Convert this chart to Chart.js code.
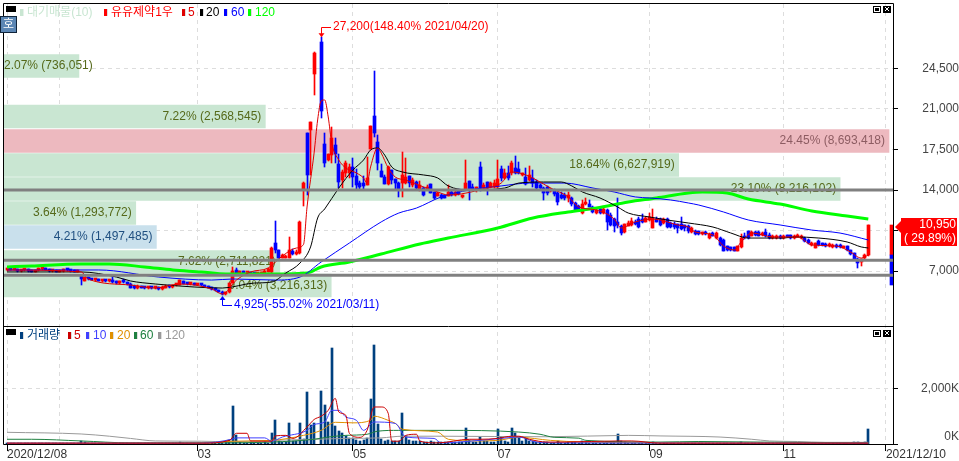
<!DOCTYPE html>
<html>
<head>
<meta charset="utf-8">
<title>유유제약1우</title>
<script src="https://cdn.jsdelivr.net/npm/chart.js@4/dist/chart.umd.min.js"></script>
<style>
  body { margin: 0; background: #fff; }
  canvas { display: block; }
</style>
</head>
<body>
<canvas id="chart" width="959" height="461"></canvas>
<script>
// daily candles, 2020/12/08 - 2021/12/10, index 88 is the hole in the picture
const opens = [
  7050,7200,7100,7150,7000,7050,7100,7000,6950,7050,
  7150,7200,7100,7000,7050,6950,7000,7100,7050,7000,
  6950,6550,6150,6400,6300,6200,6250,6150,6200,6100,
  6150,6050,5950,6100,6000,5900,5550,5500,5650,5550,
  5500,5600,5500,5550,5450,5550,5700,5600,5750,5800,
  6150,5900,5850,5900,5800,5850,5750,5650,5550,5450,
  5350,5200,4980,5150,6000,7100,6800,6900,6800,6850,
  6750,6700,6750,6800,6950,6900,9450,8800,8150,8150,
  8150,8750,8450,8550,14000,18900,19180,24000,null,26800,
  17950,16600,17000,17900,16250,14850,15450,15450,16000,15200,
  14600,14600,14450,17550,20400,18150,15650,15100,14500,15750,
  14950,14600,14600,14600,15200,14450,14700,14000,14200,14100,
  14500,13800,13500,13550,13550,13500,13800,13550,14000,13400,
  14100,14800,14300,14100,16000,14150,14700,14250,14250,14250,
  15800,15050,15450,15450,15900,15800,15300,15100,14850,15050,
  14700,14450,14150,14250,13900,14000,13750,13550,13550,13300,
  13300,12900,12600,12000,12750,12800,12550,12000,12350,12000,
  12250,11850,11500,11250,10900,10350,10900,11000,11250,11500,
  11500,11250,11400,10750,11500,11500,11150,11500,11150,11100,
  11050,11050,10950,10900,10400,10450,10450,10200,10350,9850,
  10300,9850,9850,9700,9150,9050,9050,8750,9050,10050,
  10450,10050,10400,10400,10100,10400,10150,9850,9850,10050,
  9850,10100,10100,9850,9950,9850,9850,9700,9250,9000,
  9600,9400,9350,9150,9050,9250,9250,9000,9150,8800,
  8550,8050,7750,8100,8350
];
const closes = [
  7200,7100,7150,7000,7050,7100,7000,6950,7050,7150,
  7200,7100,7000,7050,6950,7000,7100,7050,7000,6950,
  7000,6300,6450,6300,6250,6250,6150,6200,6100,6150,
  6050,6000,6100,6050,5850,5550,5500,5650,5550,5500,
  5600,5500,5550,5450,5550,5700,5600,5750,5850,6200,
  5900,5850,5900,5800,5850,5750,5650,5550,5450,5350,
  5200,5000,5150,5950,7000,6800,6900,6800,6850,6750,
  6700,6750,6800,6950,7150,9000,8800,8150,8400,8250,
  8800,8450,8650,11250,14600,15300,19900,25850,null,20800,
  16300,17100,18500,17100,14700,15550,16350,15950,15100,14450,
  14250,14350,15050,19500,18950,16350,15100,14500,16000,14850,
  14600,14100,15300,15100,14600,14850,14200,14450,13550,14250,
  13750,13300,13750,13300,13350,13800,13550,13800,13650,13550,
  14600,14100,14100,14250,14200,14450,14200,14600,14600,14950,
  15050,15450,15050,16350,15450,15450,15450,14500,15300,14600,
  14200,14200,13750,13750,14100,13650,12950,13300,13300,13550,
  12800,12300,12300,12800,12900,12550,12100,12250,12000,12350,
  11250,10950,10900,10950,10300,11050,11150,11300,11050,10800,
  11250,11600,11650,11600,11250,10950,11500,10800,10800,10800,
  10700,10600,10700,10450,10700,10200,10200,10350,10200,10200,
  10050,10300,9250,8750,8800,8800,8750,9150,9850,9850,
  9850,10400,10100,10050,10300,10050,9850,10050,10050,9850,
  10000,9950,9850,10000,10100,10050,9600,9400,9450,9400,
  9250,9250,9150,9350,9250,9050,9050,9150,8800,8450,
  8050,7700,8000,8400,10950
];
const highs = [
  7300,7250,7250,7200,7100,7150,7150,7050,7100,7250,
  7300,7250,7150,7100,7100,7050,7150,7150,7100,7050,
  7050,6600,6500,6450,6350,6300,6300,6250,6250,6200,
  6450,6100,6150,6350,6050,5950,5750,5750,5700,5650,
  5650,5650,5600,5600,5700,5750,5800,5800,5900,6250,
  6150,5950,5950,5950,5900,5900,5800,5700,5600,5500,
  5400,5250,5200,6000,7350,7300,7000,7000,6950,6950,
  6800,6850,6950,7050,7250,9050,11300,8800,8500,8350,
  9900,8900,8800,11300,14650,18900,19900,25900,null,27200,
  18900,17150,19450,18500,17100,15700,16500,16250,16770,15800,
  14800,15200,16850,19550,24300,18750,16250,15300,16050,15750,
  14950,14700,17250,16800,15250,15000,14800,14800,14300,14400,
  14550,13850,13850,13650,13600,14400,13900,13900,14100,13600,
  16550,14800,14500,14300,16400,14600,14700,14700,14900,16550,
  16100,15800,16100,16500,16900,16450,15500,15900,16100,15750,
  14900,14500,14300,14350,14200,14050,13800,13800,13700,13800,
  13400,13000,12700,13100,13300,13100,12650,12400,12500,12450,
  12400,12000,11550,13300,11000,11100,11300,11600,11400,11650,
  11900,11700,12000,12400,11700,11600,11600,11550,11250,11200,
  11100,11700,11000,11000,10800,10550,10500,10400,10450,10250,
  10400,10400,9900,9750,9200,9100,9100,9200,10200,10250,
  10500,10500,10500,10500,10400,10600,10300,10150,10100,10100,
  10100,10150,10150,10100,10200,10100,9900,9750,9500,9450,
  9650,9450,9400,9400,9300,9300,9300,9200,9200,8850,
  8600,8100,8050,8450,10950
];
const lows = [
  7000,7050,7050,6950,6950,7000,6950,6900,6900,7000,
  7100,7050,6950,6950,6900,6900,6950,7000,6950,6900,
  6900,5750,6100,6250,6200,6100,6100,6050,6050,6050,
  6000,5900,5900,6000,5800,5500,5450,5450,5500,5450,
  5450,5450,5450,5400,5350,5500,5550,5550,5700,5750,
  5850,5800,5800,5750,5750,5700,5600,5500,5400,5300,
  5150,4925,4950,5100,5950,6700,6700,6750,6700,6700,
  6650,6650,6700,6750,6900,6800,8600,8100,8100,8100,
  8100,8400,8400,8500,12600,13570,15300,22200,null,20200,
  15950,16500,16300,16330,14170,14200,15100,15000,14260,14000,
  14050,14000,14400,17500,18600,15700,15100,14500,14450,14500,
  14100,13400,13400,14550,14300,14300,14100,13950,13500,14000,
  13700,13250,13450,13250,13300,13450,13500,13500,13600,13300,
  14050,13100,14000,13800,13950,14100,13550,14200,14200,14150,
  14800,14950,14900,15300,15400,15400,15200,14450,14800,14300,
  14100,14000,13100,13600,13800,13500,12700,13200,13100,13000,
  12600,12250,12200,11950,12700,12500,12000,11950,11950,11950,
  10550,10900,10400,10750,10150,10300,10850,10900,11000,10700,
  11150,11200,11350,10700,11200,10850,11100,10750,10700,10650,
  10300,10550,10500,10300,10300,10100,10100,10150,10100,9800,
  10000,9800,9200,8700,8750,8750,8700,8700,9000,9800,
  9800,10000,10050,10000,10050,9950,9800,9800,9800,9800,
  9800,9900,9800,9800,9900,9800,9550,9350,9200,8950,
  9200,9200,9100,9100,9000,9000,9000,8950,8750,8400,
  8000,7300,7400,8050,8300
];
const volumes = [
  40,50,35,30,30,35,30,25,40,45,
  50,35,30,30,30,25,35,30,25,30,
  30,120,60,40,30,30,30,30,25,25,
  30,30,30,25,25,40,50,30,25,30,
  30,25,25,30,40,30,30,35,30,60,
  40,30,25,25,30,30,35,30,30,35,
  40,70,110,130,1350,310,60,50,40,60,
  50,40,40,60,50,380,850,90,70,60,
  740,120,100,740,180,1860,670,740,null,1900,
  1390,800,3440,640,460,380,280,220,210,150,
  110,160,220,1610,3550,710,170,110,150,100,
  90,100,1100,280,130,100,90,100,80,70,
  90,80,60,60,60,80,60,60,60,70,
  560,130,70,60,240,100,120,70,70,530,
  240,100,80,560,380,240,100,200,110,90,
  60,60,70,60,50,50,90,50,50,60,
  70,60,50,90,60,50,50,40,40,40,
  70,70,70,350,90,80,40,40,30,40,
  30,30,40,60,30,40,30,30,30,30,
  30,30,40,30,30,30,40,30,30,30,
  40,30,50,40,30,30,30,40,60,40,
  30,30,30,30,30,30,30,30,30,30,
  30,30,30,30,30,30,40,30,30,40,
  30,30,30,30,30,30,30,30,30,50,
  60,70,50,60,530
];

// price moving averages: bar index, price
const ma5Idx = [0,21,23,35,42,49,58,61,65,69,74,78,82,84,85,87,88,89,90,91,92,94,96,99,101,102,103,105,106,108,110,113,118,122,125,135,140,143,147,150,154,159,162,167,172,174,178,183,190,193,195,200,203,206,208,211,217,224,228,235,239,242,244];
const ma5 = [7090,6920,6310,5790,5530,5880,5450,5010,6220,6920,7260,8300,8990,9300,12530,17200,20050,21690,21780,20310,18060,16590,15900,15470,15040,14600,15990,17630,17200,15900,15120,14860,14260,13830,13570,14090,14600,15560,15300,14860,14170,13400,12530,12270,11490,10720,11240,11490,10980,10800,10370,10110,9160,8820,9510,10290,9940,9940,9250,9160,8640,8120,8380];
const ma20Idx = [0,21,31,35,42,53,61,70,75,79,83,86,88,90,94,98,101,103,105,107,109,112,118,122,125,131,141,145,152,157,160,163,168,173,176,182,187,193,200,205,210,220,223,230,238,242,244];
const ma20 = [6920,6920,6480,6140,5880,5620,5530,5960,6050,6830,7690,9080,11580,12360,14170,15730,16590,17460,17630,17020,15990,15560,15300,15040,14350,14000,14170,14600,14690,14690,14350,13830,13310,12530,12010,11670,11410,11150,10800,10290,9850,9850,9940,9850,9510,9080,8990];
const ma60Idx = [0,26,43,58,64,76,83,89,97,106,111,116,123,131,140,148,158,166,172,178,182,188,193,196,203,210,219,228,236,244];
const ma60 = [7090,7090,6480,6220,6310,6220,6480,7780,9420,11240,12010,12440,13400,14000,14350,14600,14600,14170,13830,13400,13310,13140,12880,12700,12100,11410,10980,10540,10280,9680];
const ma120Idx = [0,7,21,29,39,47,55,62,72,85,89,97,106,117,125,139,149,159,167,176,184,193,197,204,210,219,228,238,244];
const ma120 = [7350,7440,7610,7610,7350,7090,6920,6740,6740,6830,7350,7780,8470,9340,9850,10720,11580,12100,12440,12960,13310,13740,13830,13740,13220,12790,12190,11750,11490];

// volume moving averages (K shares)
const vol5Idx = [0,55,63,65,68,69,75,76,79,81,85,87,89,91,93,94,96,97,100,102,104,106,108,109,111,113,116,117,122,131,134,139,143,145,148,153,158,173,177,185,244];
const vol5 = [30,30,130,385,385,110,100,290,310,200,610,880,1000,1210,1640,1150,1030,380,240,490,1330,1330,1100,100,100,310,350,100,40,170,170,200,280,280,170,70,70,110,110,30,30];
const vol10Idx = [0,55,64,65,73,75,78,85,87,90,92,94,96,99,101,104,110,113,121,123,132,140,145,150,158,244];
const vol10 = [30,30,180,220,220,100,250,490,700,790,1210,1210,970,850,490,790,740,250,200,40,110,200,250,70,40,30];
const vol20Idx = [0,21,55,64,75,84,89,93,98,103,104,108,110,112,122,125,133,139,145,154,163,185,244];
const vol20 = [30,30,30,100,130,310,490,780,760,850,1000,850,740,530,430,170,110,130,240,130,70,40,30];
const vol60Idx = [0,7,21,35,55,75,87,91,96,102,105,111,124,145,151,155,162,164,185,196,239,244];
const vol60 = [170,170,110,40,40,70,170,250,310,350,460,490,490,430,350,240,210,130,70,90,40,40];
const vol120Idx = [0,21,29,35,42,55,63,75,87,96,106,112,123,153,176,185,202,211,216,224,232,244];
const vol120 = [420,360,280,200,110,100,80,130,170,200,220,280,280,260,310,290,250,170,110,90,60,60];

// 대기매물 bands
const bandPrices = [24714,20350,18234,16160,14086,12013,9939,7779,5749];
const bandShares = [2.07,7.22,24.45,18.64,23.10,3.64,4.21,7.62,9.04];
const bandLabels = ['2.07% (736,051)','7.22% (2,568,545)','24.45% (8,693,418)','18.64% (6,627,919)','23.10% (8,216,102)','3.64% (1,293,772)','4.21% (1,497,485)','7.62% (2,711,821)','9.04% (3,216,313)'];
const bandColors = ['#c9e6d2','#c9e6d2','#edb9bf','#c9e6d2','#c9e6d2','#c9e6d2','#c9e0ec','#c9e6d2','#c9e6d2'];
const bandTextColors = ['#55691a','#55691a','#8d5c62','#55691a','#55691a','#55691a','#1f4f80','#55691a','#55691a'];

const levelPrices = [14000,7925,6630];

const priceTicks = [7000,10500,14000,17500,21000,24500];
const priceTickLabels = ['7,000','','14,000','17,500','21,000','24,500'];
const volTicks = [0,2000];
const volTickLabels = [['0K',''],'2,000K'];
const dateTicks = [0,15,54,98,139,182,220,249];
const dateLabels = ['2020/12/08','','03','05','07','09','11','2021/12/10'];

const RED = '#ff0000', BLUE = '#0000ff', NAVY = '#00407f';
const FONT = '"Liberation Sans","Noto Sans CJK KR",sans-serif';

function candleColor(i) {
  return closes[i] >= opens[i] ? RED : BLUE;
}

const slots = opens.map((o, i) => i).filter(i => opens[i] !== null);

function lineSet(label, idx, vals, color, width, axis, order) {
  return {
    type: 'line', label: label,
    data: idx.map((x, i) => ({x: x, y: vals[i]})),
    borderColor: color, borderWidth: width, pointRadius: 0,
    cubicInterpolationMode: 'monotone',
    xAxisID: 'x', yAxisID: axis, order: order
  };
}

const datasets = [
  {
    type: 'bar', label: 'bands', indexAxis: 'y',
    data: bandPrices.map((p, i) => ({x: bandShares[i], y: p})),
    backgroundColor: bandColors, barThickness: 23, grouped: false, borderWidth: 0,
    xAxisID: 'xShare', yAxisID: 'y', order: 20
  },
  {
    type: 'bar', label: 'wicks',
    data: slots.map(i => ({x: i, y: [lows[i], highs[i]]})),
    backgroundColor: slots.map(candleColor), barThickness: 1, grouped: false, borderWidth: 0, minBarLength: 1,
    xAxisID: 'x', yAxisID: 'y', order: 12
  },
  {
    type: 'bar', label: 'bodies',
    data: slots.map(i => ({x: i, y: [opens[i], closes[i]]})),
    backgroundColor: slots.map(candleColor), barThickness: 3, grouped: false, borderWidth: 0, minBarLength: 2,
    xAxisID: 'x', yAxisID: 'y', order: 11
  },
  {
    type: 'bar', label: 'today',
    data: [{x: 250.6, y: [8380, 10950]}, {x: 250.6, y: [5800, 8380]}],
    backgroundColor: [RED, BLUE], barThickness: 3, grouped: false, borderWidth: 0,
    xAxisID: 'x', yAxisID: 'y', order: 10
  },
  lineSet('120', ma120Idx, ma120, '#00ff00', 3, 'y', 9),
  lineSet('60', ma60Idx, ma60, BLUE, 1, 'y', 8),
  lineSet('20', ma20Idx, ma20, '#000000', 1, 'y', 7),
  lineSet('5', ma5Idx, ma5, '#e00000', 1, 'y', 6),
  {
    type: 'bar', label: '거래량',
    data: slots.map(i => ({x: i, y: volumes[i]})),
    backgroundColor: NAVY, barThickness: 2, grouped: false, borderWidth: 0,
    xAxisID: 'x', yAxisID: 'v', order: 5
  },
  lineSet('v120', vol120Idx, vol120, '#999999', 1, 'v', 4),
  lineSet('v60', vol60Idx, vol60, '#1e8040', 1, 'v', 3),
  lineSet('v20', vol20Idx, vol20, '#e09000', 1, 'v', 2),
  lineSet('v10', vol10Idx, vol10, '#4040ff', 1, 'v', 1),
  lineSet('v5', vol5Idx, vol5, '#cc0000', 1, 'v', 0)
];
levelPrices.forEach(p => {
  datasets.push({
    type: 'line', label: 'level',
    data: [{x: -0.85, y: p}, {x: 251, y: p}],
    borderColor: '#808080', borderWidth: 3, pointRadius: 0,
    xAxisID: 'x', yAxisID: 'y', order: -1
  });
});

function text(ctx, s, x, y, color, align) {
  ctx.fillStyle = color;
  ctx.textAlign = align || 'left';
  ctx.textBaseline = 'middle';
  ctx.fillText(s, x, y);
}

function legendItem(ctx, s, markX, textX, y, color, pale) {
  ctx.fillStyle = color;
  ctx.fillRect(markX, y - 4, 3, 7);
  ctx.fillStyle = pale || '#dddddd';
  ctx.fillRect(markX + 3, y - 4, 1, 7);
  text(ctx, s, textX, y, color);
}

function windowIcons(ctx, y) {
  ctx.fillStyle = '#000';
  ctx.fillRect(873, y, 8, 7);
  ctx.fillStyle = '#fff';
  ctx.fillRect(874, y + 1, 6, 5);
  ctx.fillStyle = '#000';
  ctx.fillRect(875, y + 2, 4, 3);
  ctx.fillRect(883, y, 8, 7);
  ctx.fillStyle = '#fff';
  ctx.fillRect(885, y + 1, 1, 1);
  ctx.fillRect(888, y + 1, 1, 1);
  ctx.fillRect(886, y + 2, 2, 2);
  ctx.fillRect(885, y + 4, 1, 1);
  ctx.fillRect(888, y + 4, 1, 1);
}

// tick padding would otherwise eat into the plot area
function noScalePadding(s) {
  s.paddingTop = 0; s.paddingBottom = 0; s.paddingLeft = 0; s.paddingRight = 0;
}

// snap candle bars to whole pixels so they stay crisp like the original
const snapBars = {
  id: 'snapBars',
  afterDatasetsUpdate(chart) {
    chart.data.datasets.forEach((d, n) => {
      if (d.type !== 'bar' || d.indexAxis === 'y') return;
      chart.getDatasetMeta(n).data.forEach(el => {
        const half = el.width / 2;
        el.x = Math.round(el.x - half) + half;
        el.y = Math.round(el.y);
        el.base = Math.round(el.base);
        if (el.y === el.base) el.base += 1;
      });
    });
  }
};

// percent labels go on right after the band bars, under the candles
const bandText = {
  id: 'bandText',
  afterDatasetDraw(chart, args) {
    if (chart.data.datasets[args.index].label !== 'bands') return;
    const ctx = chart.ctx;
    ctx.save();
    ctx.font = '12px ' + FONT;
    args.meta.data.forEach((el, i) => {
      const w = ctx.measureText(bandLabels[i]).width;
      const x = Math.max(el.x - 4, 4 + w);
      text(ctx, bandLabels[i], x, el.y, bandTextColors[i], 'right');
    });
    ctx.restore();
  }
};

const decorations = {
  id: 'decorations',
  afterDraw(chart) {
    const ctx = chart.ctx;
    const xs = chart.scales.x, ys = chart.scales.y;
    ctx.save();

    // frame
    ctx.strokeStyle = '#000';
    ctx.lineWidth = 1;
    ctx.beginPath();
    ctx.moveTo(3.5, 444.5); ctx.lineTo(3.5, 3.5); ctx.lineTo(893.5, 3.5); ctx.lineTo(893.5, 444.5);
    ctx.moveTo(3.5, 326.5); ctx.lineTo(893.5, 326.5);
    ctx.moveTo(3.5, 444.5); ctx.lineTo(898, 444.5);
    ctx.stroke();

    ctx.font = '12px ' + FONT;

    // high / low callouts
    const hx = Math.round(xs.getPixelForValue(89)) + 0.5, hy = ys.getPixelForValue(27200);
    ctx.strokeStyle = RED;
    ctx.beginPath();
    ctx.moveTo(331, 27.5); ctx.lineTo(hx, 27.5); ctx.lineTo(hx, hy - 2);
    ctx.stroke();
    ctx.fillStyle = RED;
    ctx.beginPath();
    ctx.moveTo(hx - 3, hy - 4); ctx.lineTo(hx + 3, hy - 4); ctx.lineTo(hx, hy); ctx.fill();
    text(ctx, '27,200(148.40% 2021/04/20)', 333, 27, RED);

    const lx = Math.round(xs.getPixelForValue(61)) + 0.5, ly = ys.getPixelForValue(4925);
    ctx.strokeStyle = BLUE;
    ctx.beginPath();
    ctx.moveTo(lx, ly + 3); ctx.lineTo(lx, 305.5); ctx.lineTo(232, 305.5);
    ctx.stroke();
    ctx.fillStyle = BLUE;
    ctx.beginPath();
    ctx.moveTo(lx - 3, ly + 5); ctx.lineTo(lx + 3, ly + 5); ctx.lineTo(lx, ly + 1); ctx.fill();
    text(ctx, '4,925(-55.02% 2021/03/11)', 234, 305, BLUE);

    // last price tag
    ctx.fillStyle = RED;
    ctx.fillRect(901, 218, 56, 28);
    ctx.beginPath();
    ctx.moveTo(901, 221); ctx.lineTo(895, 227); ctx.lineTo(901, 233); ctx.fill();
    text(ctx, '10,950', 956, 225, '#fff', 'right');
    text(ctx, '( 29.89%)', 956, 239, '#fff', 'right');

    // price pane legend
    ctx.fillStyle = '#000';
    ctx.fillRect(6, 6, 10, 6);
    legendItem(ctx, '대기매물(10)', 20, 27, 13, '#c9e6d2', '#e6f2ea');
    legendItem(ctx, '유유제약1우', 104, 111, 13, RED);
    legendItem(ctx, '5', 182, 188, 13, '#e00000');
    legendItem(ctx, '20', 200, 206, 13, '#000000');
    legendItem(ctx, '60', 224, 231, 13, BLUE);
    legendItem(ctx, '120', 248, 255, 13, '#00ff00');

    // 호 button
    ctx.fillStyle = '#5b86b4';
    ctx.fillRect(0, 16, 17, 17);
    ctx.strokeStyle = '#10243a';
    ctx.strokeRect(0.5, 16.5, 16, 16);
    text(ctx, '호', 8.5, 24.5, '#fff', 'center');

    // volume pane legend
    ctx.fillStyle = '#000';
    ctx.fillRect(6, 329, 10, 6);
    legendItem(ctx, '거래량', 20, 27, 336, NAVY);
    legendItem(ctx, '5', 68, 74, 336, '#cc0000');
    legendItem(ctx, '10', 86, 93, 336, '#4040ff');
    legendItem(ctx, '20', 110, 117, 336, '#e09000');
    legendItem(ctx, '60', 134, 140, 336, '#1e8040');
    legendItem(ctx, '120', 158, 165, 336, '#999999');

    windowIcons(ctx, 6);
    windowIcons(ctx, 330);
    ctx.restore();
  }
};

const gridLook = {color: '#dddddd', tickColor: '#000', tickLength: 5, tickBorderDash: [], offset: false};

new Chart(document.getElementById('chart'), {
  type: 'bar',
  data: {datasets: datasets},
  plugins: [snapBars, bandText, decorations],
  options: {
    responsive: false,
    animation: false,
    events: [],
    layout: {padding: {left: 4, top: 4, right: 0, bottom: 0}},
    plugins: {legend: {display: false}, tooltip: {enabled: false}},
    scales: {
      x: {
        type: 'linear', min: -0.85, max: 251, offset: false,
        afterBuildTicks: s => { s.ticks = dateTicks.map(v => ({value: v})); },
        afterFit: s => { s.height = 17; noScalePadding(s); },
        grid: Object.assign({}, gridLook, {
          tickLength: 7,
          tickColor: c => (c.tick && dateLabels[dateTicks.indexOf(c.tick.value)]) ? '#000' : 'transparent'
        }),
        border: {display: false, dash: [4, 4]},
        ticks: {
          autoSkip: false, maxRotation: 0, minRotation: 0, align: 'start', padding: -4,
          color: '#333333', font: {family: FONT, size: 12},
          callback: (v, i) => dateLabels[i]
        }
      },
      xShare: {type: 'linear', position: 'top', display: false, min: 0, max: 24.56, offset: false},
      y: {
        type: 'linear', position: 'right', stack: 'panes', stackWeight: 322,
        min: 2250, max: 30070, offset: false,
        afterBuildTicks: s => { s.ticks = priceTicks.map(v => ({value: v})); },
        afterFit: s => { s.width = 66; noScalePadding(s); },
        grid: gridLook,
        border: {display: false, dash: [4, 4]},
        ticks: {
          autoSkip: false, padding: 20, crossAlign: 'far',
          color: '#444444', font: {family: FONT, size: 12},
          callback: (v, i) => priceTickLabels[i]
        }
      },
      v: {
        type: 'linear', position: 'right', stack: 'panes', stackWeight: 118,
        min: 0, max: 4240, offset: false,
        afterBuildTicks: s => { s.ticks = volTicks.map(v => ({value: v})); },
        afterFit: s => { s.width = 66; noScalePadding(s); },
        grid: gridLook,
        border: {display: false, dash: [4, 4]},
        ticks: {
          autoSkip: false, padding: 20, crossAlign: 'far',
          color: '#444444', font: {family: FONT, size: 12},
          callback: (v, i) => volTickLabels[i]
        }
      }
    }
  }
});
</script>
</body>
</html>
